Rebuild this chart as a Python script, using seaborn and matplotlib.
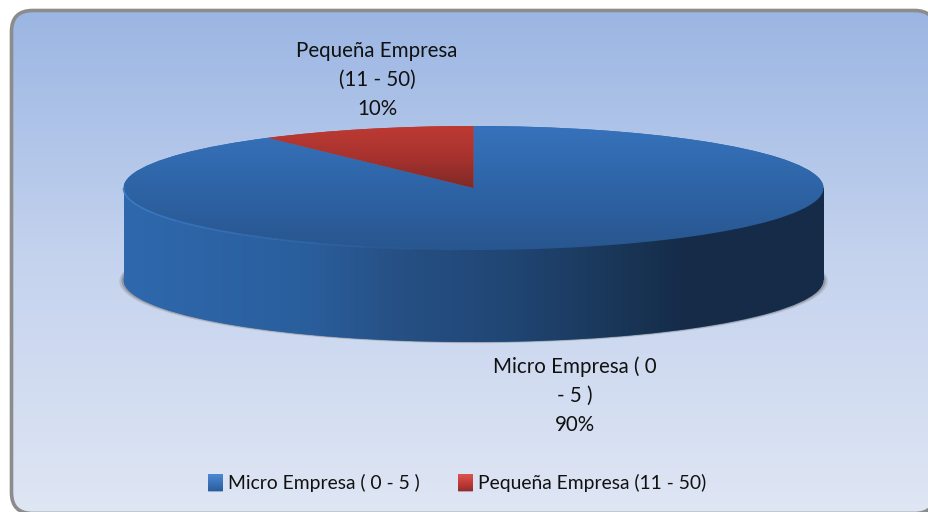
import numpy as np
import matplotlib
matplotlib.use("Agg")
import matplotlib.pyplot as plt
import seaborn as sns
from matplotlib.colors import LinearSegmentedColormap
from matplotlib.patches import Arc, Ellipse, FancyBboxPatch, Patch, Rectangle

categories = ["Micro Empresa ( 0 - 5 )", "Pequeña Empresa (11 - 50)"]
values = [90, 10]
labels = ["Micro Empresa ( 0\n- 5 )", "Pequeña Empresa\n(11 - 50)"]

sns.set_theme(style="white")
plt.rcParams["font.family"] = ["Lato", "DejaVu Sans"]

W, H = 929, 512
fig = plt.figure(figsize=(W / 100, H / 100), dpi=100, facecolor="white")

# fondo con degradado, eje en pixeles
bg = fig.add_axes([0, 0, 1, 1])
bg.set_xlim(0, W)
bg.set_ylim(H, 0)
bg.axis("off")

# cara casi transparente: sin relleno agg recorta mal la curva fuera del lienzo
box = FancyBboxPatch((11.5, 10.5), 924, 503, boxstyle="round,pad=0,rounding_size=21",
                     facecolor=(1, 1, 1, 0.003), edgecolor="#8c8c8c", linewidth=2.6, zorder=3)
bg.add_patch(box)
bg_cmap = LinearSegmentedColormap.from_list("bg", ["#9bb6e3", "#c5d3ee", "#dfe6f4"])
grad = np.linspace(0, 1, 256).reshape(-1, 1)
im = bg.imshow(grad, cmap=bg_cmap, extent=(11, 936, 513, 10), aspect="auto", zorder=1)
im.set_clip_path(box)

# pastel, radio 1 = 350 px en x y 62 px en y
cx, cy, rx, ry = 473.5, 188, 350, 62
depth = 92 / ry
ax = fig.add_axes([0, 0, 1, 1], facecolor="none")

palette = sns.color_palette(["#2f68ad", "#b0332f"])
ax.add_patch(Ellipse((0, -depth - 0.02), 2.024, 2.0, facecolor="#8a8a8a", alpha=0.3,
                     edgecolor="none", zorder=1))
ax.add_patch(Ellipse((0, -depth - 0.01), 2.012, 2.0, facecolor="#707070", alpha=0.45,
                     edgecolor="none", zorder=1))

# pared lateral
wall_cmap = LinearSegmentedColormap.from_list(
    "wall",
    [(0, "#2f68ad"), (0.25, "#2a5f9e"), (0.4, "#264f83"), (0.55, "#204674"),
     (0.7, "#1a3759"), (0.8, "#152c49"), (1, "#152b47")],
)
side = np.linspace(0, 1, 256).reshape(1, -1)
low, _ = ax.pie(values, startangle=90, counterclock=False, center=(0, -depth),
                colors=palette, wedgeprops={"linewidth": 0}, frame=True)
body = Rectangle((-1, -depth), 2, depth, facecolor="none", edgecolor="none")
ax.add_patch(body)
for clip in [low[0], low[1], body]:
    img = ax.imshow(side, cmap=wall_cmap, extent=(-1, 1, -depth - 1, 0), aspect="auto", zorder=2)
    img.set_clip_path(clip)

# cara superior
top, _ = ax.pie(values, startangle=90, counterclock=False,
                colors=palette, wedgeprops={"linewidth": 0}, frame=True)
top_maps = [
    LinearSegmentedColormap.from_list("azul", ["#3672bb", "#2e64a6", "#28568f"]),
    LinearSegmentedColormap.from_list("rojo", ["#bd3a33", "#a8322e", "#7f2a27"]),
]
vert = np.linspace(0, 1, 128).reshape(-1, 1)
for wedge, cmap, y0 in zip(top, top_maps, [1, 1]):
    img = ax.imshow(vert, cmap=cmap, extent=(-1, 1, -1 if wedge is top[0] else 0, y0),
                    aspect="auto", zorder=4)
    img.set_clip_path(wedge)

# brillo del borde frontal, se apaga hacia el centro
steps = np.linspace(180, 268, 12)
for t0, t1, a in zip(steps[:-1], steps[1:], np.linspace(0.9, 0.05, 11)):
    ax.add_patch(Arc((0, 0), 2, 2, theta1=t0, theta2=t1, color="#3f7fca", alpha=a,
                     linewidth=1.3, zorder=5))

ax.axis("off")
ax.set_aspect("auto")
ax.set_xlim(-cx / rx, (W - cx) / rx)
ax.set_ylim((cy - H) / ry, cy / ry)

# etiquetas de datos
label_pos = [(575, 396), (377, 80)]
for lab, val, (px, py) in zip(labels, values, label_pos):
    bg.text(px, py, f"{lab}\n{val}%", ha="center", va="center", fontsize=14.8,
            color="#111111", linespacing=1.56, zorder=6)

handles = [Patch(facecolor=c, edgecolor="#9fb0cc", linewidth=0.5) for c in palette]
leg = bg.legend(handles, categories, ncol=2, loc="center", frameon=False,
                bbox_to_anchor=(457.5, 483), bbox_transform=bg.transData,
                fontsize=13.9, handlelength=0.73, handleheight=0.93,
                handletextpad=0.31, columnspacing=1.97, labelcolor="#111111")

# degradado de los cuadritos de la leyenda
fig.canvas.draw()
swatch_maps = [
    LinearSegmentedColormap.from_list("s0", ["#4d88d2", "#3a74bb", "#2b5d9c"]),
    LinearSegmentedColormap.from_list("s1", ["#dc5450", "#c23c38", "#972c2a"]),
]
for patch, cmap in zip(leg.get_patches(), swatch_maps):
    bb = patch.get_window_extent()
    bg.imshow(vert, cmap=cmap, extent=(bb.x0, bb.x1, H - bb.y0, H - bb.y1), aspect="auto", zorder=7)

fig.savefig("out.png", dpi=100)
